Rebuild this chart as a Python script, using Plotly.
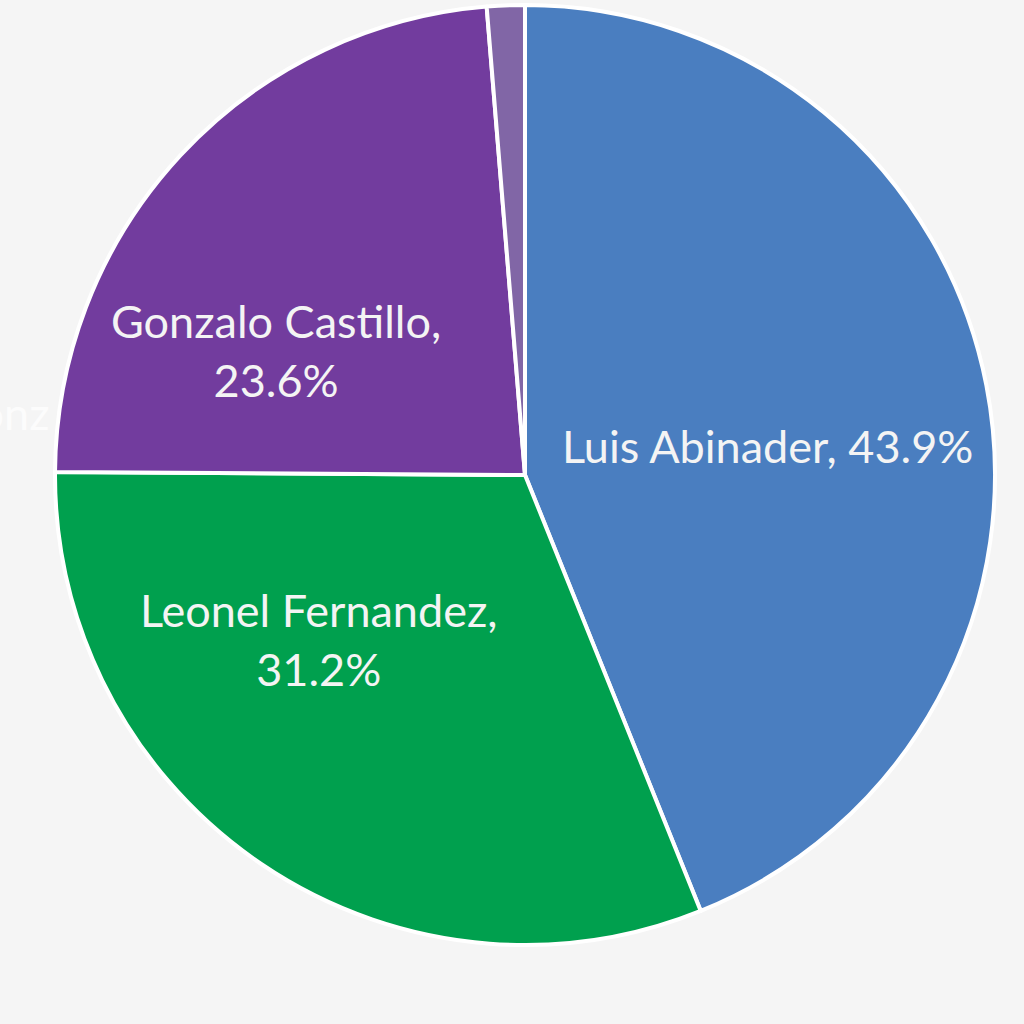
import plotly.graph_objects as go

# candidates and vote shares (%)
labels = ['Luis Abinader', 'Leonel Fernandez', 'Gonzalo Castillo', 'Otros']
values = [43.9, 31.2, 23.6, 1.3]
colors = ['#4A7EC0', '#00A04E', '#723C9E', '#8166A6']

# label text as shown inside the slices
label_text = ['Luis Abinader, 43.9%', 'Leonel Fernandez,<br>31.2%', 'Gonzalo Castillo,<br>23.6%']
label_pos = [(0.7585, 0.531), (0.280, 0.325), (0.235, 0.632)]

fig = go.Figure(go.Pie(
    labels=labels,
    values=values,
    marker=dict(colors=colors, line=dict(color='white', width=4)),
    sort=False,
    direction='clockwise',
    rotation=0,
    textinfo='none',
    hoverinfo='label+percent',
    showlegend=False,
))

for txt, (x, y) in zip(label_text, label_pos):
    fig.add_annotation(x=x, y=y, xref='paper', yref='paper', text=txt,
                       xanchor='center', yanchor='middle', showarrow=False,
                       font=dict(family='Lato', size=45, color='#F4F4F4'))

# faint cut-off outside label on the left
fig.add_annotation(x=-0.003, y=0.566, xref='paper', yref='paper', text='Gonz',
                   xanchor='right', yanchor='middle', showarrow=False,
                   font=dict(family='Lato', size=45, color='#FCFCFC'))

fig.update_layout(
    width=1024, height=1024,
    margin=dict(l=55, r=29, t=5, b=79),
    paper_bgcolor='#F5F5F5',
    plot_bgcolor='#F5F5F5',
)

# drop the page's default body margin so the figure fills the window
fig.write_html("out.html", config={'displayModeBar': False},
               post_script="document.body.style.margin='0';")
